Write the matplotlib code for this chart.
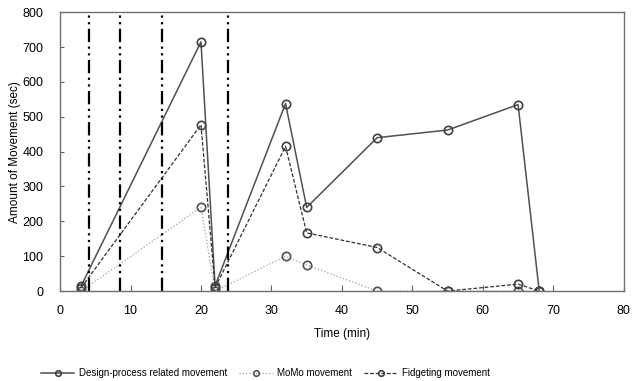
import matplotlib
matplotlib.use("Agg")
import matplotlib.pyplot as plt

# data
time_min = [3, 20, 22, 32, 35, 45, 55, 65, 68]
design_move = [15, 715, 15, 538, 240, 440, 462, 535, 0]
momo_move = [0, 240, 0, 100, 75, 0, 0, 0, 0]
fidget_move = [10, 477, 10, 415, 167, 125, 0, 20, 0]
phase_bounds = [4.1, 8.5, 14.5, 23.8]

plt.rcParams["font.family"] = ["Liberation Sans", "DejaVu Sans"]
plt.rcParams["font.size"] = 8.5

fig = plt.figure(figsize=(6.32, 3.81), dpi=100)
ax = fig.add_axes([0.095, 0.236, 0.892, 0.732])

mk = dict(marker="o", markersize=6, markerfacecolor="none", markeredgewidth=1.2)
ax.plot(time_min, design_move, color="#505050", lw=1.1, ls="-",
        markeredgecolor="#404040", label="Design-process related movement", **mk)
ax.plot(time_min, momo_move, color="#a0a0a0", lw=0.9, ls=":",
        markeredgecolor="#505050", label="MoMo movement", **mk)
ax.plot(time_min, fidget_move, color="#303030", lw=0.9, ls=(0, (3, 1.5)),
        markeredgecolor="#404040", label="Fidgeting movement", **mk)

for xb in phase_bounds:
    ax.axvline(xb, color="black", lw=1.6, ls=(0, (6, 2, 1, 2, 1, 2)))

ax.set_xlim(0, 80)
ax.set_ylim(0, 800)
ax.set_xticks(range(0, 81, 10))
ax.set_yticks(range(0, 801, 100))
ax.tick_params(axis="x", direction="in", length=4, color="#606060", pad=10, labelsize=9)
ax.tick_params(axis="y", direction="in", length=3, color="#606060", pad=12, labelsize=9)
for s in ax.spines.values():
    s.set_color("#707070")
    s.set_linewidth(1.0)

ax.set_xlabel("Time (min)", labelpad=8)
ax.set_ylabel("Amount of Movement (sec)", labelpad=1)

leg = fig.legend(loc="lower center", bbox_to_anchor=(0.42, -0.015), ncol=3, frameon=False,
                 fontsize=7, handlelength=3.4, handletextpad=0.45, columnspacing=1.3)
for h in leg.get_lines():
    h.set_markersize(4)

fig.savefig("out.png", dpi=100)
